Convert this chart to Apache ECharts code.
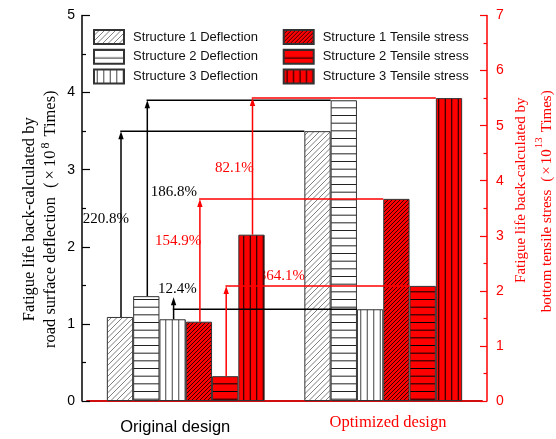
<!DOCTYPE html>
<html>
<head>
<meta charset="utf-8">
<title>Fatigue life comparison</title>
<script src="https://cdn.jsdelivr.net/npm/echarts@6/dist/echarts.min.js"></script>
<style>
  html, body { margin: 0; padding: 0; background: #fff; }
  #chart { width: 556px; height: 439px; }
</style>
</head>
<body>
<div id="chart"></div>
<script>
// ---- data ---------------------------------------------------------------
const categories = ['Original design', 'Optimized design'];

const deflectionNames = ['Structure 1 Deflection', 'Structure 2 Deflection', 'Structure 3 Deflection'];
const tensileNames = ['Structure 1 Tensile stress', 'Structure 2 Tensile stress', 'Structure 3 Tensile stress'];

// fatigue life from road surface deflection (×10^8 times): [original, optimized]
const deflection1 = [1.09, 3.50];
const deflection2 = [1.36, 3.90];
const deflection3 = [1.06, 1.19];

// fatigue life from bottom tensile stress (×10^13 times): [original, optimized]
const tensile1 = [1.44, 3.67];
const tensile2 = [0.45, 2.09];
const tensile3 = [3.02, 5.50];

// relative increase after optimization
const deflectionGain = ['220.8%', '186.8%', '12.4%'];
const tensileGain = ['154.9%', '364.1%', '82.1%'];

const leftTicks = [0, 1, 2, 3, 4, 5];
const rightTicks = [0, 1, 2, 3, 4, 5, 6, 7];

// ---- styling ------------------------------------------------------------
const RED = '#ff0000';
const BAR_W = 26.3;
const SERIF = '"Liberation Serif", "Times New Roman", serif';
const SANS = '"Liberation Sans", Arial, sans-serif';

// where each percentage label sits: offset from its arrow, height in axis units
const deflectionLabelLayout = [
  { dx: -15.2, at: 2.36, align: 'center' },
  { dx: 3.4, at: 2.71, align: 'left' },
  { dx: -15.6, at: 1.45, align: 'left' }
];
const tensileLabelLayout = [
  { dx: 1.4, at: 2.905, align: 'right' },
  { dx: 78.8, at: 2.27, align: 'right' },
  { dx: 1.2, at: 4.23, align: 'right' }
];

function tile(w, h, bg, draw) {
  const c = document.createElement('canvas');
  c.width = w; c.height = h;
  const ctx = c.getContext('2d');
  ctx.fillStyle = bg;
  ctx.fillRect(0, 0, w, h);
  draw(ctx, w, h);
  return { image: c, repeat: 'repeat' };
}
function diagonal(bg, ink, size, step, lw) {
  return tile(size, size, bg, (ctx) => {
    ctx.strokeStyle = ink;
    ctx.lineWidth = lw;
    for (let c = 0; c <= 2 * size + 0.01; c += step) {
      ctx.beginPath();
      ctx.moveTo(c + 1, -1);
      ctx.lineTo(c - size - 1, size + 1);
      ctx.stroke();
    }
  });
}
function horizontal(bg, ink) {
  return tile(4, 23, bg, (ctx, w) => {
    ctx.fillStyle = ink;
    [0, 7.67, 15.33].forEach((y) => ctx.fillRect(0, y, w, 1));
  });
}
function vertical(bg, ink) {
  return tile(13, 4, bg, (ctx, w, h) => {
    ctx.fillStyle = ink;
    [2.75, 9.25].forEach((x) => ctx.fillRect(x, 0, 1, h));
  });
}

const patterns = [
  diagonal('#ffffff', '#707070', 11, 5.5, 0.9),
  horizontal('#ffffff', '#222222'),
  vertical('#ffffff', '#444444'),
  diagonal(RED, '#000000', 8, 4, 0.8),
  horizontal(RED, '#000000'),
  vertical(RED, '#000000')
];

// ---- series -------------------------------------------------------------
const deflectionSets = [deflection1, deflection2, deflection3];
const tensileSets = [tensile1, tensile2, tensile3];

function barSeries(name, values, slot, yAxisIndex) {
  return {
    type: 'bar',
    name: name,
    yAxisIndex: yAxisIndex,
    data: values,
    barWidth: BAR_W,
    barGap: '0%',
    z: 2,
    itemStyle: { color: patterns[slot], borderColor: '#333', borderWidth: 1 }
  };
}

function slotCenter(api, cat, slot) {
  return api.coord([cat, 0])[0] + (slot - 2.5) * BAR_W;
}

// bracket arrow from the original bar up to the optimized bar's level
function arrowSeries(sets, firstSlot, yAxisIndex, color) {
  return {
    type: 'custom',
    yAxisIndex: yAxisIndex,
    z: 3,
    silent: true,
    encode: { x: 0, y: 1 },
    data: sets.map((s, k) => [0, s[0], s[1], firstSlot + k]),
    renderItem: function (params, api) {
      const slot = api.value(3);
      const xv = slotCenter(api, 0, slot) + 1;
      const y0 = api.coord([0, api.value(1)])[1];
      const y1 = api.coord([0, api.value(2)])[1];
      const xEnd = slotCenter(api, 1, slot) - BAR_W / 2;
      const tip = Math.min(y1, y0 - 22);
      const line = { stroke: color, lineWidth: 1.5, fill: null };
      return {
        type: 'group',
        children: [
          { type: 'polyline', shape: { points: [[xv, y0], [xv, tip + 6]] }, style: line },
          { type: 'polyline', shape: { points: [[xv - 0.75, y1], [xEnd, y1]] }, style: line },
          { type: 'polygon', shape: { points: [[xv, tip], [xv - 2.7, tip + 8], [xv + 2.7, tip + 8]] },
            style: { fill: color } }
        ]
      };
    }
  };
}

function gainLabelSeries(sets, firstSlot, yAxisIndex, color, gains, layout) {
  return {
    type: 'custom',
    yAxisIndex: yAxisIndex,
    z: 1,
    silent: true,
    encode: { x: 0, y: 1 },
    data: sets.map((s, k) => [0, s[0], s[1], firstSlot + k]),
    renderItem: function (params, api) {
      const k = params.dataIndex;
      const slot = api.value(3);
      const xv = slotCenter(api, 0, slot) + 1;
      return {
        type: 'text',
        x: xv + layout[k].dx,
        y: api.coord([0, layout[k].at])[1],
        style: {
          text: gains[k],
          fill: color,
          fontFamily: SERIF,
          fontSize: 15,
          align: layout[k].align,
          verticalAlign: 'middle'
        }
      };
    }
  };
}

const series = [];
deflectionSets.forEach((s, k) => series.push(barSeries(deflectionNames[k], s, k, 0)));
tensileSets.forEach((s, k) => series.push(barSeries(tensileNames[k], s, 3 + k, 1)));
series.push(gainLabelSeries(deflectionSets, 0, 0, '#000', deflectionGain, deflectionLabelLayout));
series.push(gainLabelSeries(tensileSets, 3, 1, RED, tensileGain, tensileLabelLayout));
series.push(arrowSeries(deflectionSets, 0, 0, '#000'));
series.push(arrowSeries(tensileSets, 3, 1, RED));

function legend(names, left) {
  return {
    data: names,
    orient: 'vertical',
    left: left,
    top: 29,
    padding: 0,
    icon: 'rect',
    itemWidth: 30,
    itemHeight: 14,
    itemGap: 3.8,
    selectedMode: false,
    textStyle: { fontFamily: SANS, fontSize: 13, color: '#111', padding: [0, 0, 0, 4] }
  };
}

const option = {
  animation: false,
  backgroundColor: '#fff',
  grid: { left: 87, right: 74, top: 15.5, bottom: 38, outerBoundsMode: 'none' },
  legend: [legend(deflectionNames, 93), legend(tensileNames, 282.7)],
  xAxis: [
    {
      type: 'category',
      data: categories,
      position: 'bottom',
      axisLine: { lineStyle: { color: '#000', width: 1.5 } },
      axisTick: { show: false },
      axisLabel: {
        margin: 13,
        formatter: (v, i) => (i === 0 ? '{orig|' : '{opt|') + v + '}',
        rich: {
          orig: { fontFamily: SANS, fontSize: 16.5, color: '#000', padding: [5, 21, 0, 0] },
          opt: { fontFamily: SERIF, fontSize: 16.5, color: RED, padding: [0, 0, 0, 9.5] }
        }
      }
    },
    {
      type: 'category',
      data: categories,
      position: 'top',
      axisLine: { lineStyle: { color: RED, width: 1.5 } },
      axisTick: { show: false },
      axisLabel: { show: false }
    }
  ],
  yAxis: [
    {
      type: 'value',
      position: 'left',
      offset: 5,
      min: leftTicks[0],
      max: leftTicks[leftTicks.length - 1],
      interval: 1,
      splitLine: { show: false },
      axisLine: { show: true, lineStyle: { color: '#000', width: 1.5 } },
      axisTick: { show: true, inside: true, length: 8, lineStyle: { color: '#000', width: 1.2 } },
      minorTick: { show: true, splitNumber: 2, length: 4, lineStyle: { color: '#000', width: 1.2 } },
      axisLabel: { margin: 7, fontFamily: SANS, fontSize: 14, color: '#000' },
      name: '{t|Fatigue life back-calculated by}\n' +
            '{sp|road surface deflection}{t|(}{x|×}{t|10}{s|8}{t|Times)}',
      nameLocation: 'middle',
      nameRotate: 90,
      nameGap: 21,
      nameMoveOverlap: false,
      nameTextStyle: {
        fontFamily: SERIF, fontSize: 16.5, color: '#000', lineHeight: 21,
        padding: [0, 22, 0, 0],
        rich: {
          t: { fontFamily: SERIF, fontSize: 16.5, color: '#000', lineHeight: 21 },
          sp: { fontFamily: SERIF, fontSize: 16.5, color: '#000', lineHeight: 21, padding: [0, 9, 0, 0] },
          x: { fontFamily: SERIF, fontSize: 16.5, color: '#000', lineHeight: 21, padding: [0, 3, 0, 3] },
          s: { fontFamily: SERIF, fontSize: 12, color: '#000', lineHeight: 7, verticalAlign: 'top',
               padding: [0, 6, 0, 2] }
        }
      }
    },
    {
      type: 'value',
      position: 'right',
      offset: 5,
      min: rightTicks[0],
      max: rightTicks[rightTicks.length - 1],
      interval: 1,
      splitLine: { show: false },
      axisLine: { show: true, lineStyle: { color: RED, width: 1.5 } },
      axisTick: { show: true, inside: true, length: 7, lineStyle: { color: RED, width: 1.2 } },
      minorTick: { show: true, splitNumber: 2, length: 3.5, lineStyle: { color: RED, width: 1.2 } },
      axisLabel: { margin: 9, fontFamily: SANS, fontSize: 14, color: RED },
      name: '{l1|Fatigue life back-calculated by}\n' +
            '{sp|bottom tensile stress}{t|(}{x|×}{t|10}{s|13}{end|Times)}',
      nameLocation: 'middle',
      nameRotate: 90,
      nameGap: 21,
      nameMoveOverlap: false,
      nameTextStyle: {
        fontFamily: SERIF, fontSize: 15, color: RED, lineHeight: 26,
        padding: [0, 0, 0, 25],
        rich: {
          l1: { fontFamily: SERIF, fontSize: 15, color: RED, lineHeight: 26, padding: [0, 0, 0, 11] },
          t: { fontFamily: SERIF, fontSize: 15, color: RED, lineHeight: 26 },
          sp: { fontFamily: SERIF, fontSize: 15, color: RED, lineHeight: 26, padding: [0, 8, 0, 0] },
          x: { fontFamily: SERIF, fontSize: 15, color: RED, lineHeight: 26, padding: [0, 2, 0, 2] },
          s: { fontFamily: SERIF, fontSize: 11, color: RED, lineHeight: 8, verticalAlign: 'top',
               padding: [0, 5, 0, 1] },
          end: { fontFamily: SERIF, fontSize: 15, color: RED, lineHeight: 26, padding: [0, 11, 0, 0] }
        }
      }
    }
  ],
  series: series
};

const chart = echarts.init(document.getElementById('chart'), null, { renderer: 'canvas' });
chart.setOption(option);
</script>
</body>
</html>
